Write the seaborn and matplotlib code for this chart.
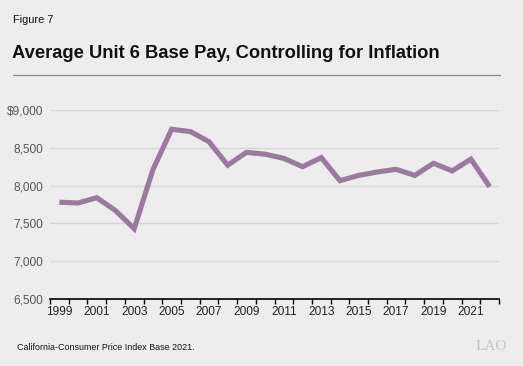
import numpy as np
import pandas as pd
import matplotlib.pyplot as plt
import seaborn as sns

# Donnees
years = list(range(1999, 2023))
pay = [7780, 7770, 7840, 7670, 7430, 8210, 8745, 8715, 8580, 8270,
       8440, 8415, 8360, 8250, 8370, 8065, 8135, 8180, 8215, 8135,
       8295, 8195, 8350, 7985]
yticks = [6500, 7000, 7500, 8000, 8500, 9000]
ytick_labels = ["6,500", "7,000", "7,500", "8,000", "8,500", "$9,000"]
xlabel_years = list(range(1999, 2022, 2))

bg = "#ecedec"
line_color = "#9a7b9d"

sns.set_theme(style="white")
plt.rcParams['font.family'] = ['Liberation Sans', 'DejaVu Sans']

df = pd.DataFrame({"year": years, "pay": pay})

fig = plt.figure(figsize=(5.23, 3.66), dpi=100, facecolor=bg)
ax = fig.add_axes([50 / 523, 1 - 299 / 366, 449 / 523, 189 / 366])
ax.set_facecolor(bg)

sns.lineplot(data=df, x="year", y="pay", color=line_color, linewidth=3.7,
             ax=ax, solid_capstyle="butt", solid_joinstyle="miter")

ax.set_xlim(1998.5, 2022.5)
ax.set_ylim(6500, 9000)
ax.set_yticks(yticks)
ax.set_yticklabels(ytick_labels)
for y in yticks[1:]:
    ax.axhline(y, color="#d6d8d6", linewidth=1, zorder=0)

# ticks aux limites des categories, etiquettes au centre
ax.set_xticks(np.arange(1998.5, 2023, 1))
ax.set_xticklabels([])
ax.set_xticks(xlabel_years, minor=True)
ax.set_xticklabels([str(y) for y in xlabel_years], minor=True)
ax.tick_params(axis="x", which="major", length=3.5, width=1, color="black",
               direction="out", bottom=True)
ax.tick_params(axis="x", which="minor", length=0, labelsize=8.6,
               pad=5, labelcolor="#222222")
ax.tick_params(axis="y", length=0, labelsize=8.6, pad=5, labelcolor="#555555")

for s in ["top", "right", "left"]:
    ax.spines[s].set_visible(False)
ax.spines["bottom"].set_color("black")
ax.spines["bottom"].set_linewidth(1.2)
ax.set_xlabel("")
ax.set_ylabel("")

fig.text(13 / 523, 1 - 20 / 366, "Figure 7", fontsize=7.9, va="center",
         color="#111111")
fig.text(12 / 523, 1 - 53 / 366,
         "Average Unit 6 Base Pay, Controlling for Inflation",
         fontsize=13.2, fontweight="bold", va="center", color="#111111")
fig.add_artist(plt.Line2D([13 / 523, 500 / 523], [1 - 75 / 366, 1 - 75 / 366],
                          color="#8a8a8a", linewidth=0.9))
fig.text(17 / 523, 1 - 347 / 366, "California-Consumer Price Index Base 2021.",
         fontsize=6.4, va="center", color="#111111")
fig.text(507 / 523, 1 - 347 / 366, "LAO", fontsize=11, va="center",
         ha="right", color="#c4c4c4", family="Liberation Serif")

fig.savefig("out.png", dpi=100, facecolor=bg)
